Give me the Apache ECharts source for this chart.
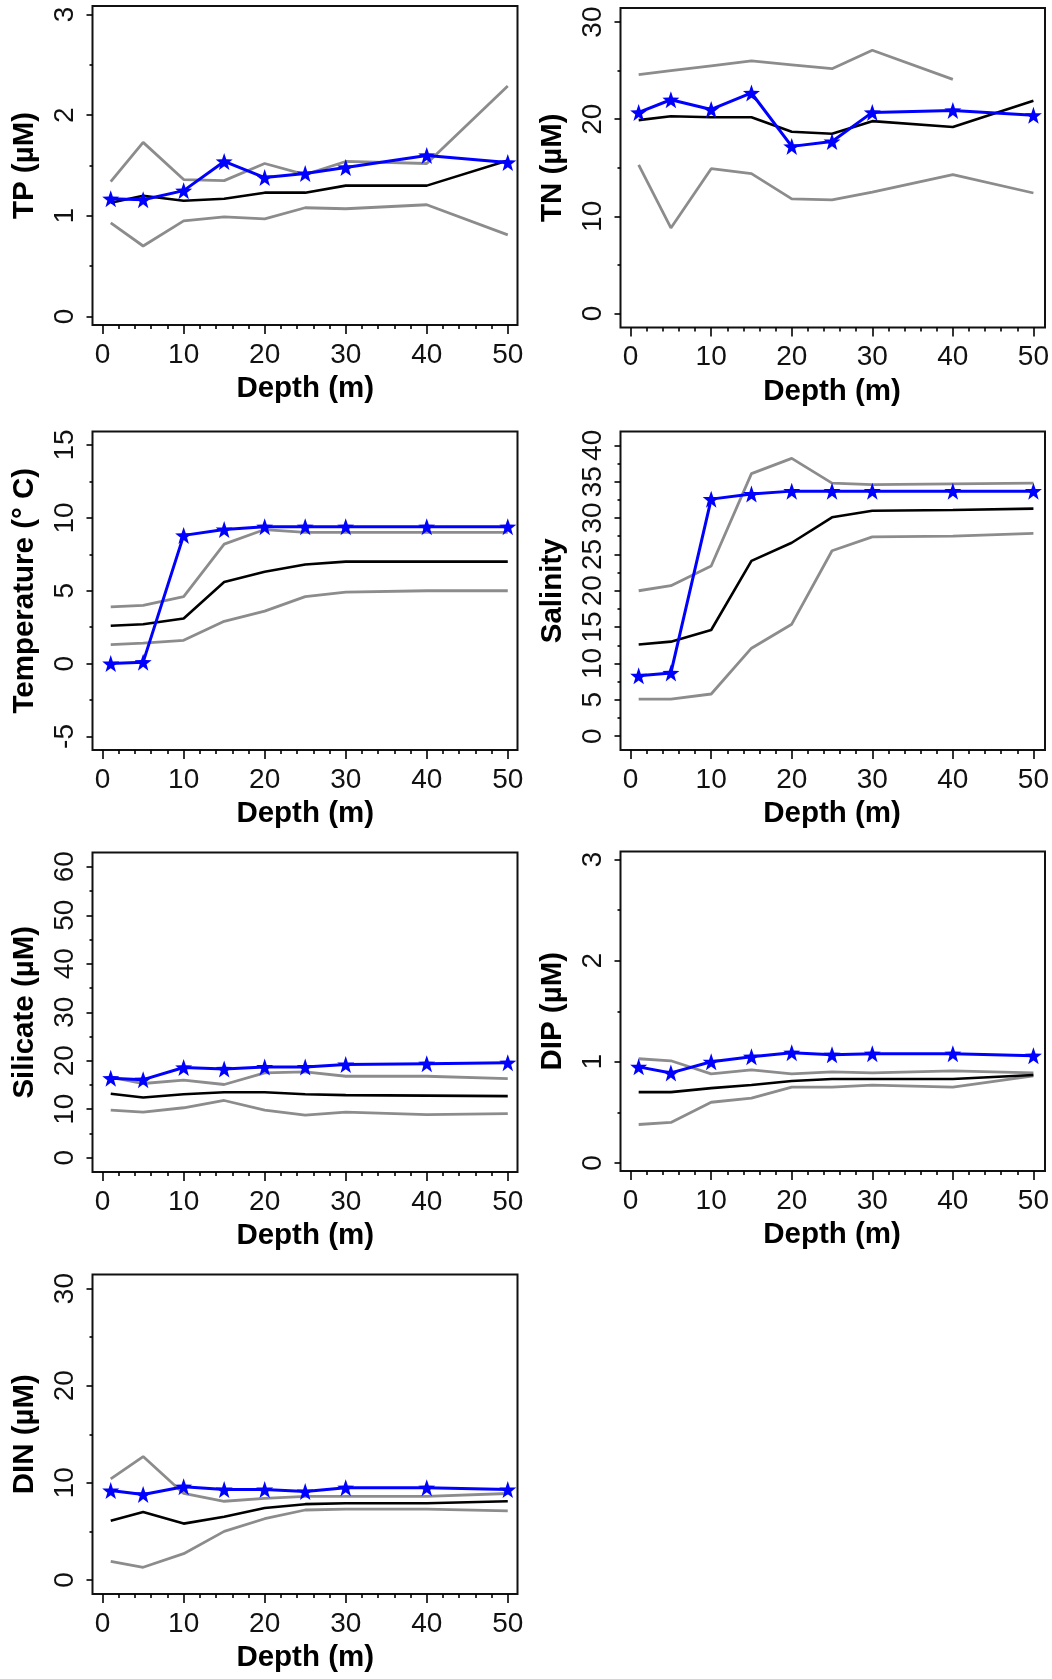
<!DOCTYPE html>
<html>
<head>
<meta charset="utf-8">
<script src="https://cdn.jsdelivr.net/npm/echarts@6/dist/echarts.min.js"></script>
<style>
html,body{margin:0;padding:0;background:#fff;}
#chart{width:1052px;height:1679px;}
</style>
</head>
<body>
<div id="chart"></div>
<script>
// ---- data ----
const depth = [1, 5, 10, 15, 20, 25, 30, 40, 50];
const xTicks = [0, 10, 20, 30, 40, 50];

const TP_obs  = [1.17, 1.16, 1.25, 1.54, 1.38, 1.42, 1.48, 1.60, 1.53];
const TP_mean = [1.13, 1.20, 1.15, 1.17, 1.23, 1.23, 1.30, 1.30, 1.55];
const TP_hi   = [1.34, 1.73, 1.36, 1.35, 1.52, 1.41, 1.54, 1.52, 2.29];
const TP_lo   = [0.93, 0.70, 0.95, 0.99, 0.97, 1.08, 1.07, 1.11, 0.81];

const TN_obs  = [20.7, 22.0, 21.0, 22.7, 17.2, 17.7, 20.7, 20.9, 20.4];
const TN_mean = [19.9, 20.3, 20.2, 20.2, 18.7, 18.5, 19.8, 19.2, 21.9];
const TN_hi   = [24.6, 25.0, 25.5, 26.0, 25.6, 25.2, 27.1, 24.1, null];
const TN_lo   = [15.3, 8.8, 14.9, 14.4, 11.8, 11.7, 12.5, 14.3, 12.4];

const TEMP_obs  = [0.0, 0.1, 8.8, 9.2, 9.4, 9.4, 9.4, 9.4, 9.4];
const TEMP_mean = [2.6, 2.7, 3.1, 5.6, 6.3, 6.8, 7.0, 7.0, 7.0];
const TEMP_hi   = [3.9, 4.0, 4.6, 8.2, 9.2, 9.0, 9.0, 9.0, 9.0];
const TEMP_lo   = [1.3, 1.4, 1.6, 2.9, 3.6, 4.6, 4.9, 5.0, 5.0];

const SAL_obs  = [8.3, 8.7, 32.6, 33.3, 33.7, 33.7, 33.7, 33.7, 33.7];
const SAL_mean = [12.6, 13.0, 14.6, 24.1, 26.6, 30.1, 31.0, 31.1, 31.3];
const SAL_hi   = [20.0, 20.7, 23.4, 36.1, 38.2, 34.8, 34.6, 34.7, 34.8];
const SAL_lo   = [5.1, 5.1, 5.8, 12.1, 15.4, 25.5, 27.4, 27.5, 27.9];

const SIL_obs  = [16.4, 16.1, 18.6, 18.3, 18.7, 18.7, 19.2, 19.4, 19.6];
const SIL_mean = [13.2, 12.4, 13.1, 13.5, 13.5, 13.1, 12.9, 12.8, 12.7];
const SIL_hi   = [16.6, 15.3, 16.0, 15.1, 17.5, 17.7, 16.8, 16.8, 16.3];
const SIL_lo   = [9.8, 9.4, 10.3, 11.8, 9.8, 8.8, 9.4, 8.9, 9.1];

const DIP_obs  = [0.95, 0.89, 1.00, 1.05, 1.09, 1.07, 1.08, 1.08, 1.06];
const DIP_mean = [0.70, 0.70, 0.74, 0.77, 0.81, 0.83, 0.83, 0.83, 0.87];
const DIP_hi   = [1.03, 1.01, 0.88, 0.92, 0.88, 0.90, 0.89, 0.91, 0.89];
const DIP_lo   = [0.38, 0.40, 0.60, 0.64, 0.75, 0.75, 0.77, 0.75, 0.86];

const DIN_obs  = [9.2, 8.8, 9.6, 9.3, 9.3, 9.1, 9.5, 9.5, 9.3];
const DIN_mean = [6.1, 7.0, 5.8, 6.5, 7.4, 7.8, 7.9, 7.9, 8.1];
const DIN_hi   = [10.4, 12.7, 8.9, 8.1, 8.4, 8.6, 8.6, 8.6, 8.9];
const DIN_lo   = [1.9, 1.3, 2.7, 5.0, 6.3, 7.2, 7.3, 7.3, 7.1];

// y tick settings per panel: [min tick, max tick, step]
const TP_yTicks   = [0, 3, 1];
const TN_yTicks   = [0, 30, 10];
const TEMP_yTicks = [-5, 15, 5];
const SAL_yTicks  = [0, 40, 5];
const SIL_yTicks  = [0, 60, 10];
const DIP_yTicks  = [0, 3, 1];
const DIN_yTicks  = [0, 30, 10];

// ---- panels (data refs) ----
const panels = [
  {title: 'TP (µM)', obs: TP_obs, mean: TP_mean, hi: TP_hi, lo: TP_lo, yt: TP_yTicks},
  {title: 'TN (µM)', obs: TN_obs, mean: TN_mean, hi: TN_hi, lo: TN_lo, yt: TN_yTicks},
  {title: 'Temperature (° C)', obs: TEMP_obs, mean: TEMP_mean, hi: TEMP_hi, lo: TEMP_lo, yt: TEMP_yTicks},
  {title: 'Salinity', obs: SAL_obs, mean: SAL_mean, hi: SAL_hi, lo: SAL_lo, yt: SAL_yTicks},
  {title: 'Silicate (µM)', obs: SIL_obs, mean: SIL_mean, hi: SIL_hi, lo: SIL_lo, yt: SIL_yTicks},
  {title: 'DIP (µM)', obs: DIP_obs, mean: DIP_mean, hi: DIP_hi, lo: DIP_lo, yt: DIP_yTicks},
  {title: 'DIN (µM)', obs: DIN_obs, mean: DIN_mean, hi: DIN_hi, lo: DIN_lo, yt: DIN_yTicks}
];

// ---- layout (frame boxes in px and the value span each frame covers) ----
const layout = [
  {L: 92.5,  T: 6,     W: 425,   H: 319,   ylo: -0.085, yhi: 3.085},
  {L: 620.5, T: 8,     W: 424.5, H: 319.5, ylo: -1.45,  yhi: 31.45},
  {L: 92.5,  T: 431.5, W: 425,   H: 318.5, ylo: -5.93,  yhi: 15.93},
  {L: 620.5, T: 431.5, W: 424.5, H: 318.5, ylo: -1.9,   yhi: 41.9},
  {L: 92.5,  T: 852.5, W: 425,   H: 319.5, ylo: -2.95,  yhi: 62.95},
  {L: 620.5, T: 851.5, W: 424.5, H: 319.5, ylo: -0.08,  yhi: 3.08},
  {L: 92.5,  T: 1274.5,W: 425,   H: 319.5, ylo: -1.45,  yhi: 31.45}
];
const XLO = -1.25, XHI = 51.2;

const FONT = "'Liberation Sans', Arial, sans-serif";
const STAR = 'path://M0,-10 L2.35,-3.24 L9.51,-3.09 L3.8,1.24 L5.88,8.09 L0,4 L-5.88,8.09 L-3.8,1.24 L-9.51,-3.09 L-2.35,-3.24 Z';

const grids = [], xAxes = [], yAxes = [], series = [];
const TICK = {color: '#000', width: 1.6, opacity: 1};

panels.forEach((p, i) => {
  const l = layout[i];
  const xmin = xTicks[0], xmax = xTicks[xTicks.length - 1];
  const ymin = p.yt[0], ymax = p.yt[1], ystep = p.yt[2];
  const gx0 = l.L + (xmin - XLO) / (XHI - XLO) * l.W;
  const gx1 = l.L + (xmax - XLO) / (XHI - XLO) * l.W;
  const gyT = l.T + (l.yhi - ymax) / (l.yhi - l.ylo) * l.H;
  const gyB = l.T + (l.yhi - ymin) / (l.yhi - l.ylo) * l.H;

  // frame grid
  const fi = grids.length;
  grids.push({left: l.L, top: l.T, width: l.W, height: l.H, show: true,
              borderColor: '#111', borderWidth: 2, backgroundColor: 'transparent'});
  xAxes.push({gridIndex: fi, type: 'value', show: false, min: 0, max: 1});
  yAxes.push({gridIndex: fi, type: 'value', show: false, min: 0, max: 1});

  // data grid
  const di = grids.length;
  grids.push({left: gx0, top: gyT, width: gx1 - gx0, height: gyB - gyT, show: false});
  xAxes.push({
    gridIndex: di, type: 'value', min: xmin, max: xmax, interval: 10,
    position: 'bottom', offset: (l.T + l.H) - gyB,
    axisLine: {show: true, onZero: false, lineStyle: {color: '#000', width: 1, opacity: 0}},
    axisTick: {show: true, inside: false, length: 9, lineStyle: TICK},
    minorTick: {show: true, splitNumber: 5, length: 4, lineStyle: TICK},
    splitLine: {show: false},
    axisLabel: {show: true, fontFamily: FONT, fontSize: 28, color: '#111', margin: 16},
    name: 'Depth (m)', nameLocation: 'middle', nameGap: 49,
    nameTextStyle: {fontFamily: FONT, fontSize: 29.5, fontWeight: 'bold', color: '#000'}
  });
  yAxes.push({
    gridIndex: di, type: 'value', min: ymin, max: ymax, interval: ystep,
    position: 'left', offset: gx0 - l.L,
    axisLine: {show: true, onZero: false, lineStyle: {color: '#000', width: 1, opacity: 0}},
    axisTick: {show: true, inside: false, length: 6, lineStyle: TICK},
    minorTick: {show: true, splitNumber: 2, length: 3, lineStyle: TICK},
    splitLine: {show: false},
    axisLabel: {show: true, rotate: 90, fontFamily: FONT, fontSize: 28, color: '#111', margin: 13},
    name: p.title, nameLocation: 'middle', nameGap: 53, nameRotate: 90,
    nameTextStyle: {fontFamily: FONT, fontSize: 29.5, fontWeight: 'bold', color: '#000'}
  });

  const mk = (arr) => depth.map((d, k) => [d, arr[k]]);
  const base = {type: 'line', xAxisIndex: di, yAxisIndex: di, clip: false, silent: true,
                animation: false, connectNulls: false};
  series.push(Object.assign({}, base, {data: mk(p.hi), showSymbol: false, symbol: 'none',
    lineStyle: {color: '#8c8c8c', width: 2.8}}));
  series.push(Object.assign({}, base, {data: mk(p.lo), showSymbol: false, symbol: 'none',
    lineStyle: {color: '#8c8c8c', width: 2.8}}));
  series.push(Object.assign({}, base, {data: mk(p.mean), showSymbol: false, symbol: 'none',
    lineStyle: {color: '#000', width: 2.6}}));
  series.push(Object.assign({}, base, {data: mk(p.obs), symbol: STAR, symbolSize: 17,
    showSymbol: true, itemStyle: {color: '#0000ff'},
    lineStyle: {color: '#0000ff', width: 3}}));
});

const chart = echarts.init(document.getElementById('chart'), null, {renderer: 'canvas'});
chart.setOption({
  backgroundColor: '#fff',
  animation: false,
  grid: grids,
  xAxis: xAxes,
  yAxis: yAxes,
  series: series
});
</script>
</body>
</html>
